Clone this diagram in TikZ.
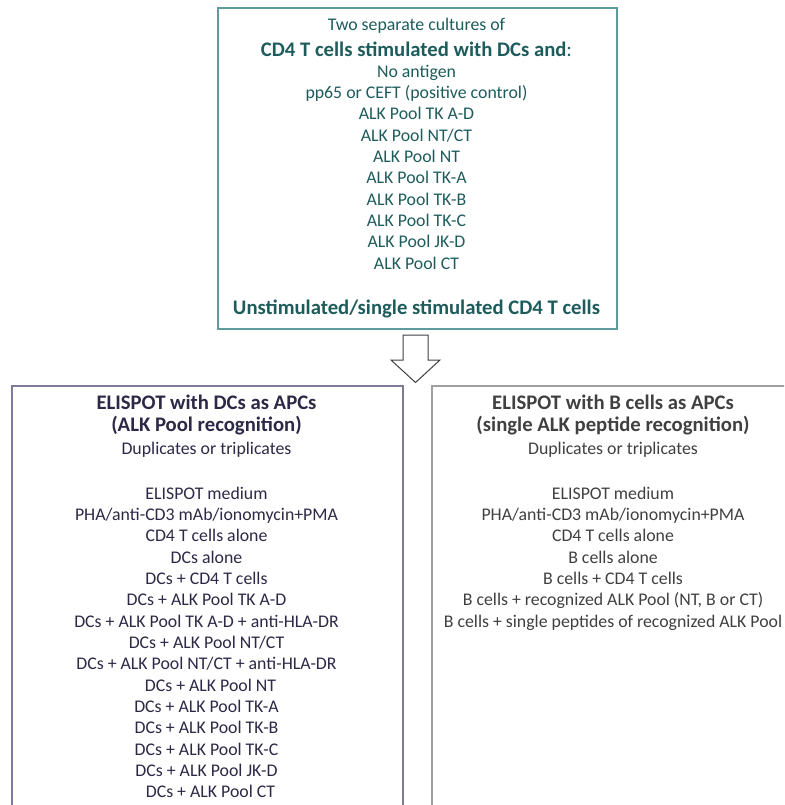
\documentclass[tikz,border=0pt]{standalone}
\usepackage{fontspec}
\setmainfont{Carlito}
\definecolor{tealtxt}{HTML}{1E5C5C}
\definecolor{tealbd}{HTML}{5E9C9C}
\definecolor{purtxt}{HTML}{2C2946}
\definecolor{purbd}{HTML}{807A9A}
\definecolor{graytxt}{HTML}{404040}
\definecolor{graybd}{HTML}{A0A0A0}
\tikzset{
  txt/.style={anchor=base, inner sep=0pt, font=\fontsize{17.8}{21}\selectfont},
  ttl/.style={anchor=base, inner sep=0pt, font=\fontsize{20.7}{24}\selectfont\bfseries},
  box/.style={draw, line width=2pt, fill=white, rectangle, anchor=north west, inner sep=0pt},
  blockarrow/.style={draw=graytxt, line width=1pt, fill=white, line join=miter},
}
\begin{document}
\begin{tikzpicture}[x=1pt,y=-1pt]
\useasboundingbox (0,0) rectangle (784,805);
\clip (0,0) rectangle (784,805);
% boxes
\node[box, draw=tealbd, minimum width=399pt, minimum height=320pt] (top) at (217,7.5) {};
\node[box, draw=purbd, minimum width=391pt, minimum height=440pt] (left) at (11,385) {};
\node[box, draw=graybd, minimum width=370pt, minimum height=440pt] (right) at (431,385) {};
% block arrow
\draw[blockarrow] (403,335) -- (428,335) -- (428,360) -- (440,360) -- (415.5,382.5)
  -- (391,360) -- (403,360) -- cycle;
% top box text
\begin{scope}[text=tealtxt]
\node[txt] (t1) at (416.5,30.7) {Two separate cultures of};
\node[ttl] (t2) at (416.5,56.7) {CD4 T cells stimulated with DCs and\mdseries:};
\foreach \s [count=\k from 0] in {No antigen, pp65 or CEFT (positive control), ALK Pool TK A-D,
  {ALK Pool NT/CT}, ALK Pool NT, ALK Pool TK-A, ALK Pool TK-B, ALK Pool TK-C, ALK Pool JK-D, ALK Pool CT}
  \node[txt] (ti\k) at (416.5,77.3+\k*21.33) {\s};
\node[ttl] (t3) at (416.5,314) {Unstimulated/single stimulated CD4 T cells};
\end{scope}
% left box text
\begin{scope}[text=purtxt]
\node[ttl] (l1) at (206.5,409.3) {ELISPOT with DCs as APCs};
\node[ttl] (l2) at (206.5,431) {(ALK Pool recognition)};
\node[txt] (l3) at (206.5,454) {Duplicates or triplicates};
\foreach \s/\dx [count=\k from 0] in {{ELISPOT medium}/0, {PHA/anti-CD3 mAb/ionomycin+PMA}/0, {CD4 T cells alone}/0,
  {DCs alone}/0, {DCs + CD4 T cells}/0, {DCs + ALK Pool TK A-D}/0, {DCs + ALK Pool TK A-D + anti-HLA-DR}/0,
  {DCs + ALK Pool NT/CT}/0, {DCs + ALK Pool NT/CT + anti-HLA-DR}/0, {DCs + ALK Pool NT}/4,
  {DCs + ALK Pool TK-A}/0, {DCs + ALK Pool TK-B}/0, {DCs + ALK Pool TK-C}/0, {DCs + ALK Pool JK-D}/0, {DCs + ALK Pool CT}/4}
  \node[txt] (li\k) at (206.5+\dx,499.3+\k*21.33) {\s};
\end{scope}
% right box text
\begin{scope}[text=graytxt]
\node[ttl] (r1) at (613,409.3) {ELISPOT with B cells as APCs};
\node[ttl] (r2) at (613,431) {(single ALK peptide recognition)};
\node[txt] (r3) at (613,454) {Duplicates or triplicates};
\foreach \s [count=\k from 0] in {ELISPOT medium, {PHA/anti-CD3 mAb/ionomycin+PMA}, CD4 T cells alone,
  B cells alone, B cells + CD4 T cells, {B cells + recognized ALK Pool (NT, B or CT)},
  B cells + single peptides of recognized ALK Pool}
  \node[txt] (ri\k) at (613,499.3+\k*21.33) {\s};
\end{scope}
\end{tikzpicture}
\end{document}
